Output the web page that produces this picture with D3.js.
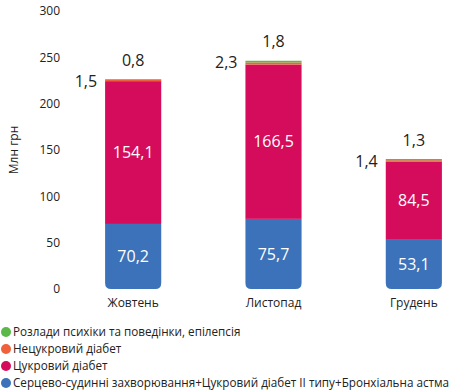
<!DOCTYPE html>
<html>
<head>
<meta charset="utf-8">
<script src="https://cdn.jsdelivr.net/npm/d3@7"></script>
<style>
  body { margin: 0; background: #fff; }
  svg text { font-family: "Open Sans", "Noto Sans", sans-serif; fill: #222; }
</style>
</head>
<body>
<div id="chart"></div>
<script>
var width = 472;
var height = 391;

// data
var months = ["Жовтень", "Листопад", "Грудень"];
var cardio = [70.2, 75.7, 53.1];
var diabetes = [154.1, 166.5, 84.5];
var insipidus = [1.5, 2.3, 1.4];
var mental = [0.8, 1.8, 1.3];
var yTicks = [0, 50, 100, 150, 200, 250, 300];

var seriesNames = [
  "Розлади психіки та поведінки, епілепсія",
  "Нецукровий діабет",
  "Цукровий діабет",
  "Серцево-судинні захворювання+Цукровий діабет II типу+Бронхіальна астма"
];
var seriesColors = ["#5bb947", "#f0603a", "#d50b5b", "#3b72b9"];

var svg = d3.select("#chart").append("svg")
  .attr("width", width)
  .attr("height", height);

var y = d3.scaleLinear().domain([0, 300]).range([289, 11]);
var x = d3.scaleBand().domain(months).range([63, 484]).paddingInner(0.6).paddingOuter(0.3);

// y axis labels (no line)
svg.append("g").selectAll("text")
  .data(yTicks)
  .enter().append("text")
  .attr("x", 60)
  .attr("y", function(d) { return y(d); })
  .attr("dy", "0.35em")
  .attr("text-anchor", "end")
  .style("font-size", "12px")
  .text(function(d) { return d; });

svg.append("text")
  .attr("transform", "translate(14," + y(150) + ") rotate(-90)")
  .attr("text-anchor", "middle")
  .attr("dy", "0.35em")
  .style("font-size", "12px")
  .text("Млн грн");

// stacked segments, bottom to top
var layers = [
  { vals: cardio, color: seriesColors[3] },
  { vals: diabetes, color: seriesColors[2] },
  { vals: insipidus, color: seriesColors[1] },
  { vals: mental, color: seriesColors[0] }
];

months.forEach(function(m, i) {
  var base = 0;
  var bx = x(m), bw = x.bandwidth();
  layers.forEach(function(layer, li) {
    var v = layer.vals[i];
    var y0 = y(base), y1 = y(base + v);
    if (li === 0) {
      var r = 6;
      var p = d3.path();
      p.moveTo(bx, y1);
      p.lineTo(bx + bw, y1);
      p.lineTo(bx + bw, y0 - r);
      p.quadraticCurveTo(bx + bw, y0, bx + bw - r, y0);
      p.lineTo(bx + r, y0);
      p.quadraticCurveTo(bx, y0, bx, y0 - r);
      p.closePath();
      svg.append("path").attr("d", p.toString()).attr("fill", layer.color);
    } else {
      svg.append("rect")
        .attr("x", bx).attr("y", y1)
        .attr("width", bw).attr("height", y0 - y1)
        .attr("fill", layer.color);
    }
    base += v;
  });

  var cx = bx + bw / 2;
  // inside labels
  svg.append("text")
    .attr("x", cx).attr("y", y(cardio[i] / 2))
    .attr("dy", "0.35em").attr("text-anchor", "middle")
    .style("font-size", "16px").style("fill", "#fff")
    .text(d3.format(".1f")(cardio[i]).replace(".", ","));
  svg.append("text")
    .attr("x", cx).attr("y", y(cardio[i] + diabetes[i] / 2))
    .attr("dy", "0.35em").attr("text-anchor", "middle")
    .style("font-size", "16px").style("fill", "#fff")
    .text(d3.format(".1f")(diabetes[i]).replace(".", ","));

  var top = cardio[i] + diabetes[i] + insipidus[i] + mental[i];
  // small segment labels
  svg.append("text")
    .attr("x", bx - 8).attr("y", y(top) + 2)
    .attr("dy", "0.35em").attr("text-anchor", "end")
    .style("font-size", "16px")
    .text(d3.format(".1f")(insipidus[i]).replace(".", ","));
  svg.append("text")
    .attr("x", cx).attr("y", y(top) - 19)
    .attr("dy", "0.35em").attr("text-anchor", "middle")
    .style("font-size", "16px")
    .text(d3.format(".1f")(mental[i]).replace(".", ","));

  // month label
  svg.append("text")
    .attr("x", cx).attr("y", 303)
    .attr("dy", "0.35em").attr("text-anchor", "middle")
    .style("font-size", "12px")
    .text(m);
});

// legend
var legend = svg.append("g").attr("transform", "translate(0,332)");
seriesNames.forEach(function(name, i) {
  var g = legend.append("g").attr("transform", "translate(0," + (i * 17) + ")");
  g.append("circle").attr("cx", 6).attr("cy", 0).attr("r", 5).attr("fill", seriesColors[i]);
  g.append("text").attr("x", 13).attr("y", 0).attr("dy", "0.35em")
    .style("font-size", "11.7px")
    .text(name);
});
</script>
</body>
</html>
